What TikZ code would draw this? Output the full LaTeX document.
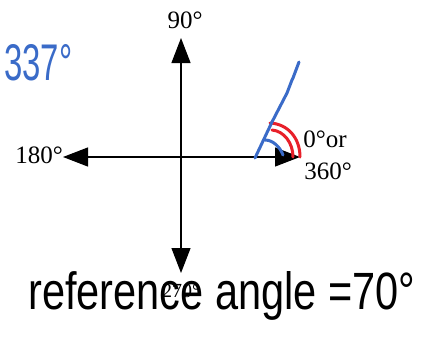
\documentclass[tikz,border=0pt]{standalone}
\usepackage{fontspec}
\setmainfont{Liberation Serif}
\newfontfamily\handfont{Liberation Sans}
\usetikzlibrary{arrows.meta}
\definecolor{penblue}{HTML}{3A6BC8}
\definecolor{penred}{HTML}{E8202A}
\tikzset{
  axis/.style={line width=1.2pt, {Triangle[length=25pt,width=19pt]}-{Triangle[length=25pt,width=19pt]}},
  deglabel/.style={font=\fontsize{25}{25}\selectfont, inner sep=0pt},
  bluepen/.style={draw=penblue, line width=3pt, line cap=round, line join=round},
  redpen/.style={draw=penred, line width=3pt, line cap=round},
  hand/.style={inner sep=0pt, font=\handfont}
}
\begin{document}
\begin{tikzpicture}[x=1pt,y=-1pt]
\useasboundingbox (0,0) rectangle (430,345);
\fill[white] (0,0) rectangle (430,345);
% axes
\coordinate (top) at (181,38);
\coordinate (bottom) at (181,273);
\coordinate (left) at (63,157);
\coordinate (right) at (300,157);
\coordinate (O) at (181,157);
\draw[axis] (top) -- (bottom);
\draw[axis] (left) -- (right);
% labels
\node[deglabel] (l90) at (185,20) {90°};
\node[deglabel] (l180) at (39,155) {180°};
\node[deglabel] (l0) at (325,139) {0°or};
\node[deglabel] (l360) at (328,171) {360°};
\node[deglabel, font=\fontsize{20}{20}\selectfont] (l270) at (181,291) {270°};
% red arcs
\coordinate (r1a) at (270,123);
\coordinate (r1b) at (300,157);
\coordinate (r2a) at (272,130);
\coordinate (r2b) at (293,157);
\draw[redpen] (r1a) .. controls (288,124) and (300,138) .. (r1b);
\draw[redpen] (r2a) .. controls (284,131) and (293,143) .. (r2b);
% blue terminal line and arc
\coordinate (v) at (255,158);
\coordinate (b1) at (272,122);
\coordinate (b2) at (287,93);
\coordinate (b3) at (292,80);
\coordinate (b4) at (299,62);
\draw[bluepen] (v) -- (b1) -- (b2) -- (b3) (b3) -- ++(1,-2) -- (b4);
\coordinate (ba) at (265,140);
\coordinate (bb) at (283,155);
\draw[bluepen] (ba) .. controls (273,140) and (280,147) .. (bb);
% handwriting
\node[hand, text=penblue, anchor=base west] (n337) at (4,80) {\resizebox{68pt}{36pt}{337°}};
\node[hand, anchor=base west] (ref) at (28,309) {\resizebox{387pt}{38pt}{reference angle =70°}};
\end{tikzpicture}
\end{document}
